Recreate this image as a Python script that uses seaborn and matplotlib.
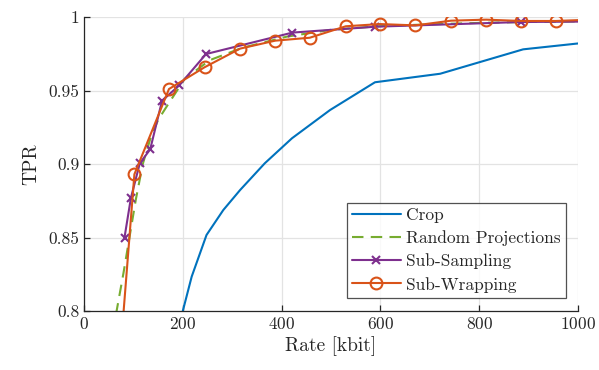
import matplotlib
matplotlib.use('Agg')
import matplotlib.pyplot as plt
import seaborn as sns

# Данные (Rate в kbit, TPR)
crop_rate = [190, 200, 218, 248, 282, 316, 366, 421, 498, 589, 721, 889, 1000]
crop_tpr = [0.787, 0.800, 0.8234, 0.8517, 0.8687, 0.8823, 0.9005, 0.9175, 0.9367, 0.9556, 0.9614, 0.978, 0.982]

rp_rate = [60, 66, 80, 92, 105, 119, 135, 150, 171, 204, 255, 320, 410, 498, 600, 700, 800, 900, 1000]
rp_tpr = [0.785, 0.800, 0.826, 0.850, 0.876, 0.900, 0.918, 0.930, 0.941, 0.958, 0.9707, 0.979, 0.9866,
          0.9912, 0.9938, 0.995, 0.996, 0.9966, 0.997]

ss_rate = [82, 95, 113, 134, 158, 193, 247, 422, 590, 885, 1500]
ss_tpr = [0.850, 0.877, 0.9005, 0.910, 0.943, 0.9536, 0.9748, 0.9894, 0.9934, 0.9966, 0.998]

sw_rate = [31, 102, 172, 244, 316, 387, 457, 530, 599, 671, 743, 814, 885, 955, 1026]
sw_tpr = [0.59, 0.893, 0.951, 0.9658, 0.9785, 0.9839, 0.9859, 0.9937, 0.9952, 0.9943, 0.9975,
          0.9982, 0.9973, 0.9973, 0.9982]

sns.set_style('white')
plt.rcParams['font.family'] = 'serif'
plt.rcParams['font.serif'] = ['cmr10']
plt.rcParams['mathtext.fontset'] = 'cm'
plt.rcParams['axes.unicode_minus'] = False
plt.rcParams['axes.formatter.use_mathtext'] = True

fig = plt.figure(figsize=(5.99, 3.70), dpi=100)
ax = fig.add_axes([84 / 599, 1 - 311 / 370, 494 / 599, 294 / 370])

sns.lineplot(x=crop_rate, y=crop_tpr, ax=ax, sort=False, color='#0072BD', lw=1.5, label='Crop')
sns.lineplot(x=rp_rate, y=rp_tpr, ax=ax, sort=False, color='#77AC30', lw=1.5,
             linestyle=(0, (5.5, 3.5)), label='Random Projections')
sns.lineplot(x=ss_rate, y=ss_tpr, ax=ax, sort=False, color='#7E2F8E', lw=1.5,
             marker='x', markersize=6, markeredgewidth=1.5, markeredgecolor='#7E2F8E',
             label='Sub-Sampling')
sns.lineplot(x=sw_rate, y=sw_tpr, ax=ax, sort=False, color='#D95319', lw=1.5,
             marker='o', markersize=8.5, markerfacecolor='none', markeredgewidth=1.5,
             markeredgecolor='#D95319', label='Sub-Wrapping')

ax.set_xlim(0, 1000)
ax.set_ylim(0.8, 1.0)
ax.set_xticks([0, 200, 400, 600, 800, 1000])
ax.set_yticks([0.8, 0.85, 0.9, 0.95, 1.0])
ax.set_yticklabels(['0.8', '0.85', '0.9', '0.95', '1'])
ax.grid(True, color='#e3e3e3', lw=0.9)
ax.set_axisbelow(True)
for s in ['top', 'right']:
    ax.spines[s].set_visible(False)
for s in ['left', 'bottom']:
    ax.spines[s].set_color('#262626')
    ax.spines[s].set_linewidth(0.9)
ax.tick_params(direction='in', length=4, width=0.9, color='#262626', labelsize=12.5,
               labelcolor='#262626', left=True, bottom=True)

ax.set_xlabel('Rate [kbit]', fontsize=14, color='#262626', labelpad=3)
ax.set_ylabel('TPR', fontsize=14, color='#262626', labelpad=6)

leg = ax.legend(loc='lower right', bbox_to_anchor=(0.975, 0.045), fontsize=12.5, frameon=True,
                fancybox=False, edgecolor='#262626', handlelength=2.8, labelspacing=0.42,
                borderpad=0.3, handletextpad=0.3, borderaxespad=0)
leg.get_frame().set_linewidth(0.9)
for t in leg.get_texts():
    t.set_color('#262626')

fig.savefig('out.png', dpi=100)
